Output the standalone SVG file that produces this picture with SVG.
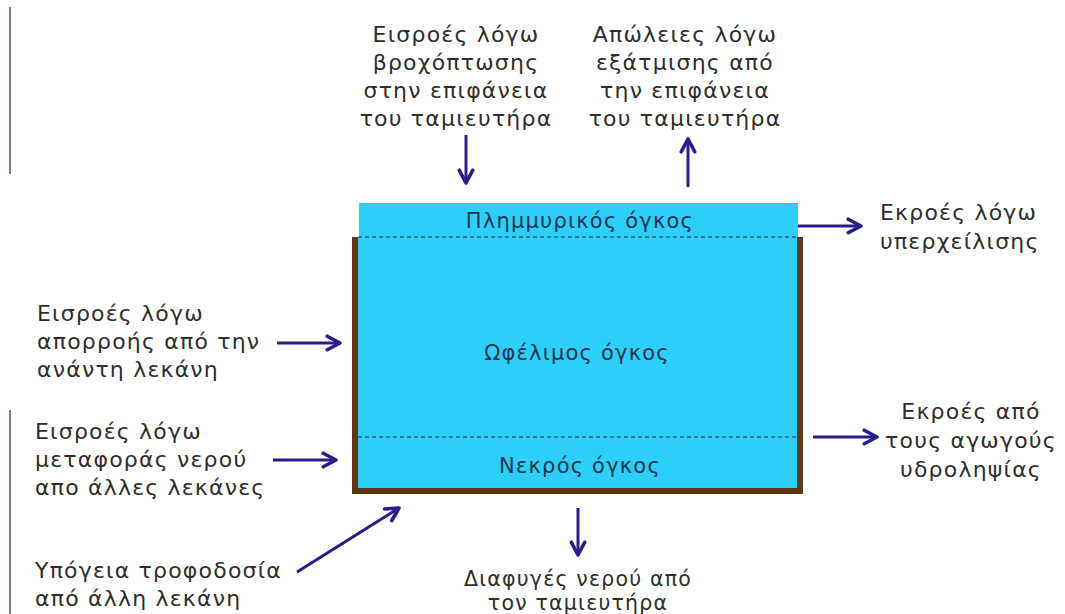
<svg xmlns="http://www.w3.org/2000/svg" width="1065" height="614" viewBox="0 0 1065 614">
<style>
.lbl{font-family:"DejaVu Sans","Noto Sans",sans-serif;font-size:22px;letter-spacing:1.2px;fill:#2e2e2e}
.sm{font-size:20.5px}
.in{font-family:"DejaVu Sans","Noto Sans",sans-serif;font-size:21px;letter-spacing:1.2px;fill:#1d3550;text-anchor:middle}
.c{text-anchor:middle}
.arr{stroke:#2b1c8c;stroke-width:3;fill:none;marker-end:url(#ah)}
</style>
<defs>
<marker id="ah" viewBox="0 0 12 12" refX="10" refY="6" markerWidth="6" markerHeight="6" orient="auto" markerUnits="strokeWidth">
<path d="M1.5,1.5 L10,6 L1.5,10.5" fill="none" stroke="#2b1c8c" stroke-width="2.4" stroke-linecap="round" stroke-linejoin="round"/>
</marker>
</defs>
<rect width="1065" height="614" fill="#ffffff"/>
<g id="edge-line">
<line x1="10" y1="7" x2="10" y2="174" stroke="#7c7c9c" stroke-width="2"/>
<line x1="10" y1="410" x2="10" y2="614" stroke="#7c7c9c" stroke-width="2"/>
</g>
<g id="reservoir">
<rect x="359" y="203" width="439" height="34" fill="#2ccff7"/>
<rect x="357" y="237" width="441" height="252" fill="#2ccff7"/>
<path d="M355,237 V491 H800 V237" fill="none" stroke="#5b3816" stroke-width="6"/>
<line x1="358" y1="237" x2="798" y2="237" stroke="#1d3550" stroke-width="1.2" stroke-dasharray="4,3"/>
<line x1="358" y1="437" x2="798" y2="437" stroke="#1d3550" stroke-width="1.2" stroke-dasharray="4,3"/>
<text class="in" x="580" y="228">Πλημμυρικός όγκος</text>
<text class="in" x="577" y="360">Ωφέλιμος όγκος</text>
<text class="in" x="580" y="473">Νεκρός όγκος</text>
</g>
<g id="connectors">
<line class="arr" x1="466" y1="135" x2="466" y2="183"/>
<line class="arr" x1="688" y1="187" x2="688" y2="139"/>
<line class="arr" x1="798" y1="226" x2="861" y2="226"/>
<line class="arr" x1="277" y1="343" x2="340" y2="343"/>
<line class="arr" x1="273" y1="460" x2="336" y2="460"/>
<line class="arr" x1="297" y1="572" x2="399" y2="508"/>
<line class="arr" x1="813" y1="437" x2="877" y2="437"/>
<line class="arr" x1="578" y1="508" x2="578" y2="555"/>
</g>
<g id="rain">
<text class="lbl c" x="456" y="42">Εισροές λόγω</text>
<text class="lbl c" x="456" y="70">βροχόπτωσης</text>
<text class="lbl c" x="456" y="98">στην επιφάνεια</text>
<text class="lbl c" x="456" y="126">του ταμιευτήρα</text>
</g>
<g id="evap">
<text class="lbl c" x="685" y="42">Απώλειες λόγω</text>
<text class="lbl c" x="685" y="70">εξάτμισης από</text>
<text class="lbl c" x="685" y="98">την επιφάνεια</text>
<text class="lbl c" x="685" y="126">του ταμιευτήρα</text>
</g>
<g id="spill">
<text class="lbl" x="880" y="220">Εκροές λόγω</text>
<text class="lbl" x="880" y="249">υπερχείλισης</text>
</g>
<g id="runoff">
<text class="lbl" x="37" y="321">Εισροές λόγω</text>
<text class="lbl" x="37" y="349">απορροής από την</text>
<text class="lbl" x="37" y="377">ανάντη λεκάνη</text>
</g>
<g id="transfer">
<text class="lbl" x="35" y="439">Εισροές λόγω</text>
<text class="lbl" x="35" y="467">μεταφοράς νερού</text>
<text class="lbl" x="35" y="495">απο άλλες λεκάνες</text>
</g>
<g id="intake">
<text class="lbl c" x="971" y="419">Εκροές από</text>
<text class="lbl c" x="971" y="448">τους αγωγούς</text>
<text class="lbl c" x="971" y="477">υδροληψίας</text>
</g>
<g id="groundwater">
<text class="lbl" x="35" y="578">Υπόγεια τροφοδοσία</text>
<text class="lbl" x="35" y="606">από άλλη λεκάνη</text>
</g>
<g id="leakage">
<text class="lbl sm c" x="578" y="586">Διαφυγές νερού από</text>
<text class="lbl sm c" x="578" y="610">τον ταμιευτήρα</text>
</g>
</svg>
